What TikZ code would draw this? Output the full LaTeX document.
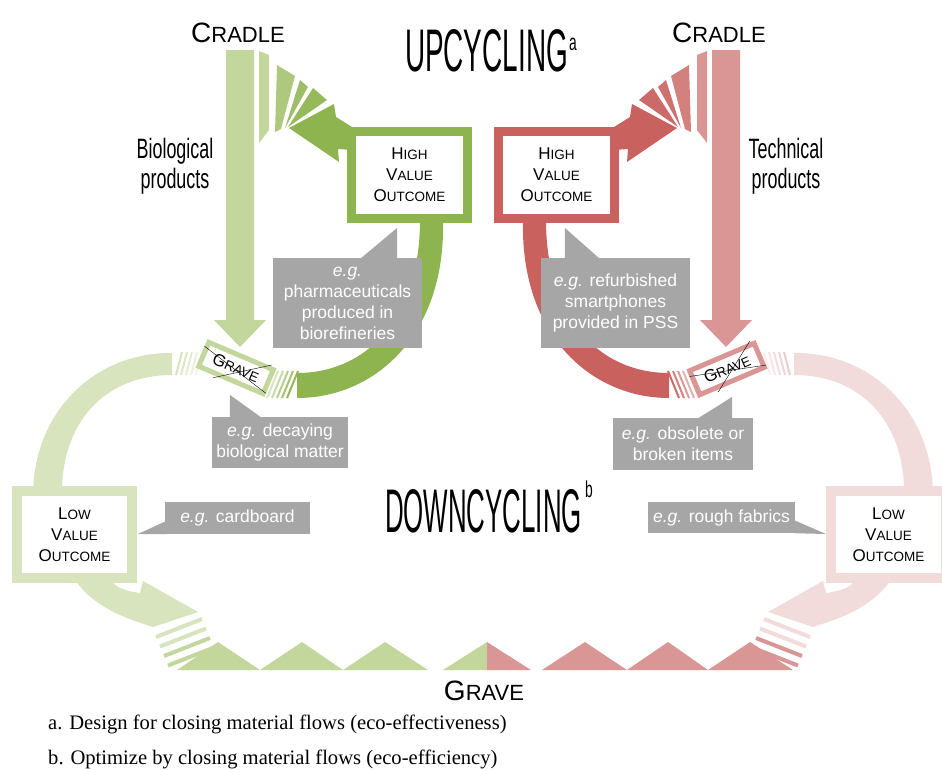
\documentclass[tikz,border=0pt]{standalone}
\usepackage{fontspec}
\setmainfont{Liberation Sans}
\newfontfamily\timesfont{Liberation Serif}
\usepackage{graphicx}
\usetikzlibrary{calc}

\definecolor{lgreen}{HTML}{C3D69B}
\definecolor{mgreen}{HTML}{8EB44F}
\definecolor{pgreen}{HTML}{D7E4BD}
\definecolor{lred}{HTML}{D99694}
\definecolor{mred}{HTML}{C9625F}
\definecolor{pred}{HTML}{F2DCDB}
\definecolor{notegrey}{HTML}{A6A6A6}

\newcommand\capsbig[2]{{\fontsize{28}{28}\selectfont #1}{\fontsize{22}{22}\selectfont #2}}
\newcommand\capssmall[2]{{\fontsize{17}{17}\selectfont #1}{\fontsize{13.5}{13.5}\selectfont #2}}

% shapes of one half (left), the right half is the mirror image
\newcommand\halfscheme[3]{%
  % downcycling loop
  \fill[#3] (172,353) .. controls (98,352) and (35,408) .. (33,492) -- (62,492)
     .. controls (62,422) and (105,375) .. (172,375) -- cycle;
  \foreach \s/\op in {0/0.9,5/0.75,10/0.6,15/0.45,20/0.3}
    \draw[#3!70!#1, opacity=\op, line width=2pt] (182+\s,352) -- (176+\s,375);
  \fill[#3] (75,580) .. controls (95,608) and (125,618) .. (153,627) -- (198,612)
     -- (143,581) -- (140,593) .. controls (125,591) and (114,587) .. (112,580) -- cycle;
  \foreach \k/\c in {0/#3,1/#3,2/#1,3/#1}
    \draw[\c, line width=4pt] (156+\k*4,637+\k*9.5) -- (202+\k*4,619+\k*9.5);
  % flow from the cradle
  \fill[#1] (226,50) -- (254,50) -- (254,320) -- (266,320) -- (240,347) -- (214,320) -- (226,320) -- cycle;
  % back to the cradle
  \fill[#1] (259,51) -- (269,55) -- (269,130) -- (259,143) -- cycle;
  \fill[#1!60!#2] (277,65) -- (295,76) -- (281,129) -- (275,132) -- cycle;
  \fill[#1!30!#2] (300,80) -- (308,87) -- (285,128) -- cycle;
  \fill[#1!15!#2] (313,88) -- (327,100) -- (288,127) -- cycle;
  \fill[#2] (289,128) -- (334,104) -- (336,117) -- (352,127) -- (352,150) -- (338,149) -- (339,162) -- cycle;
  % upcycling loop
  \fill[#2] (420,220) -- (443,220) .. controls (446,335) and (375,398) .. (297,398)
     -- (297,373) .. controls (365,373) and (420,320) .. (420,220) -- cycle;
  \foreach \s/\op in {0/0.35,5/0.5,10/0.65,15/0.8,20/0.95}
    \draw[#2, opacity=\op, line width=2pt] (278+\s,371) -- (267+\s,398);
}

\begin{document}
\begin{tikzpicture}[x=1pt, y=-1pt,
    outcome/.style={fill=white, minimum width=116pt, minimum height=87pt, inner sep=0pt,
      align=center, font=\fontsize{13.5}{21}\selectfont, line width=9pt},
    egnote/.style={fill=notegrey, text=white, inner sep=0pt, align=center,
      font=\fontsize{17.5}{21}\selectfont},
    gravebox/.style={draw, fill=white, line width=5pt, minimum width=70pt,
      minimum height=26pt, inner sep=0pt}]
    \useasboundingbox (0,0) rectangle (942,769);
    \clip (0,0) rectangle (942,769);

    \halfscheme{lgreen}{mgreen}{pgreen}
    \begin{scope}[xshift=966pt, xscale=-1]
        \halfscheme{lred}{mred}{pred}
    \end{scope}

    % grave line
    \fill[lgreen] (177,670) -- (218,642) -- (260,670) -- (302,642) -- (343,670) -- (385,642) -- (428,670) -- cycle;
    \fill[lgreen] (443,670) -- (487,642) -- (487,670) -- cycle;
    \fill[lred] (487,642) -- (531,670) -- (487,670) -- cycle;
    \fill[lred] (542,670) -- (585,642) -- (627,670) -- (668,642) -- (708,670) -- (750,642) -- (793,670) -- cycle;

    \node[outcome, draw=mgreen] (highL) at (409.5,175) {\capssmall{H}{IGH}\\\capssmall{V}{ALUE}\\\capssmall{O}{UTCOME}};
    \node[outcome, draw=mred] (highR) at (556.5,175) {\capssmall{H}{IGH}\\\capssmall{V}{ALUE}\\\capssmall{O}{UTCOME}};
    \node[outcome, draw=pgreen, line width=10pt, minimum width=115pt] (lowL) at (74.5,534.5) {\capssmall{L}{OW}\\\capssmall{V}{ALUE}\\\capssmall{O}{UTCOME}};
    \node[outcome, draw=pred, line width=10pt, minimum width=115pt] (lowR) at (888.5,534.5) {\capssmall{L}{OW}\\\capssmall{V}{ALUE}\\\capssmall{O}{UTCOME}};

    \node[gravebox, draw=lgreen, rotate=-23] (graveL) at (236,368) {\capssmall{G}{RAVE}};
    \node[gravebox, draw=lred, rotate=23] (graveR) at (727,369) {\capssmall{G}{RAVE}};
    % crossed out
    \foreach \g in {graveL,graveR} {
        \draw[thin] ($(\g.north west)!0.5!(\g.west)$) -- ($(\g.south east)!0.25!(\g.east)$);
        \draw[thin, shorten <=-4pt, shorten >=-2pt] ($(\g.south west)!0.63!(\g.south)$) -- ($(\g.north east)!0.2!(\g.north)$);
    }

    % examples
    \node[egnote, minimum width=149pt, minimum height=90pt] (pharma) at (347.5,303) {\textit{e.g.}\\pharmaceuticals\\produced in\\biorefineries};
    \fill[notegrey] ($(pharma.north east)+(-62,1)$) -- (397,228) -- ($(pharma.north east)+(-25,1)$) -- cycle;
    \node[egnote, minimum width=149pt, minimum height=90pt] (refurb) at (615.5,303) {\textit{e.g.} refurbished\\smartphones\\provided in PSS};
    \fill[notegrey] ($(refurb.north west)+(24,1)$) -- (565,228) -- ($(refurb.north west)+(59,1)$) -- cycle;
    \node[egnote, minimum width=136pt, minimum height=51pt] (decay) at (280,442.5) {\textit{e.g.} decaying\\biological matter};
    \fill[notegrey] ($(decay.north west)+(18,1)$) -- (230,395) -- ($(decay.north west)+(50,1)$) -- cycle;
    \node[egnote, minimum width=140pt, minimum height=52pt] (obsolete) at (683,444) {\textit{e.g.} obsolete or\\broken items};
    \fill[notegrey] ($(obsolete.north east)+(-56,1)$) -- (732,397) -- ($(obsolete.north east)+(-21,1)$) -- cycle;
    \node[egnote, minimum width=145pt, minimum height=32pt] (cardboard) at (237.5,518) {\textit{e.g.} cardboard};
    \fill[notegrey] ($(cardboard.south west)+(1,-13)$) -- (138,534) -- ($(cardboard.south west)+(1,0)$) -- cycle;
    \node[egnote, minimum width=147pt, minimum height=31pt] (fabrics) at (721.5,517.5) {\textit{e.g.} rough fabrics};
    \fill[notegrey] ($(fabrics.south east)+(-1,-13)$) -- (826,534) -- ($(fabrics.south east)+(-1,0)$) -- cycle;

    % labels
    \node[anchor=base] (cradleL) at (238,42) {\capsbig{C}{RADLE}};
    \node[anchor=base] (cradleR) at (719,42) {\capsbig{C}{RADLE}};
    \node[anchor=base] (graveB) at (484,700) {\capsbig{G}{RAVE}};
    \node[xscale=0.64, align=center, font=\fontsize{28}{30}\selectfont] (bio) at (175,166) {Biological\\products};
    \node[xscale=0.64, align=center, font=\fontsize{28}{30}\selectfont] (tech) at (786,166) {Technical\\products};
    \node[inner sep=0pt] (upcyc) at (486.5,51) {\resizebox{163pt}{42pt}{UPCYCLING}};
    \node[inner sep=0pt, xscale=0.6, anchor=base west, font=\fontsize{23}{23}\selectfont] (upsup) at (569,50) {a};
    \node[inner sep=0pt] (downcyc) at (483.5,511.5) {\resizebox{197pt}{43pt}{DOWNCYCLING}};
    \node[inner sep=0pt, xscale=0.6, anchor=base west, font=\fontsize{23}{23}\selectfont] (downsup) at (585,497) {b};

    % notes
    \node[anchor=base west, inner sep=0pt, font=\timesfont\fontsize{20.6}{24}\selectfont] (notea) at (48,729) {a. Design for closing material flows (eco-effectiveness)};
    \node[anchor=base west, inner sep=0pt, font=\timesfont\fontsize{20.6}{24}\selectfont] (noteb) at (48,764) {b. Optimize by closing material flows (eco-efficiency)};
\end{tikzpicture}
\end{document}
